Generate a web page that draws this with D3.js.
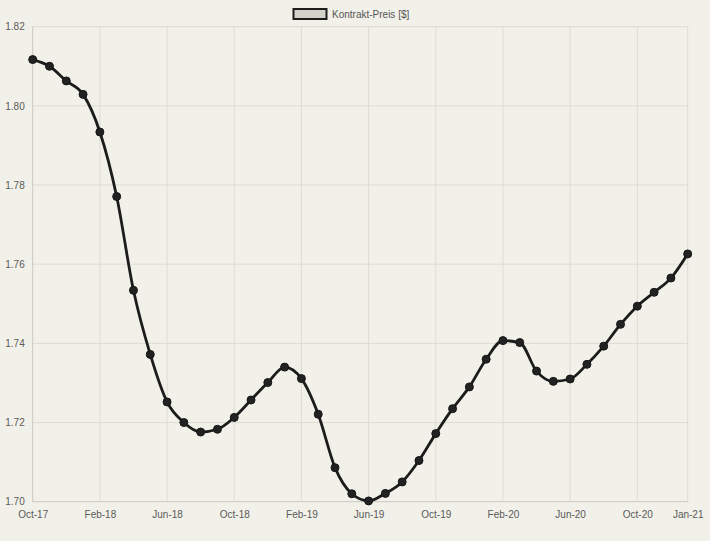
<!DOCTYPE html>
<html>
<head>
<meta charset="utf-8">
<script src="https://cdn.jsdelivr.net/npm/d3@7"></script>
<style>
  html, body { margin: 0; padding: 0; background: #f2f1e9; }
  svg { display: block; }
  text { font-family: "Liberation Sans", Arial, Helvetica, sans-serif; }
</style>
</head>
<body>
<svg id="chart" width="710" height="541"></svg>
<script>
const months = [
  "Oct-17","Nov-17","Dec-17","Jan-18","Feb-18","Mar-18","Apr-18","May-18","Jun-18","Jul-18",
  "Aug-18","Sep-18","Oct-18","Nov-18","Dec-18","Jan-19","Feb-19","Mar-19","Apr-19","May-19",
  "Jun-19","Jul-19","Aug-19","Sep-19","Oct-19","Nov-19","Dec-19","Jan-20","Feb-20","Mar-20",
  "Apr-20","May-20","Jun-20","Jul-20","Aug-20","Sep-20","Oct-20","Nov-20","Dec-20","Jan-21"
];
const prices = [
  1.8117, 1.8100, 1.8063, 1.8029, 1.7934, 1.7771, 1.7534, 1.7372, 1.7252, 1.7200,
  1.7176, 1.7183, 1.7213, 1.7257, 1.7301, 1.7340, 1.7311, 1.7221, 1.7086, 1.7020,
  1.7002, 1.7021, 1.7050, 1.7104, 1.7172, 1.7235, 1.7290, 1.7360, 1.7407, 1.7402,
  1.7330, 1.7304, 1.7310, 1.7347, 1.7393, 1.7448, 1.7494, 1.7529, 1.7565, 1.7626
];
const xTickLabels = ["Oct-17","Feb-18","Jun-18","Oct-18","Feb-19","Jun-19","Oct-19","Feb-20","Jun-20","Oct-20","Jan-21"];
const yTickValues = [1.70, 1.72, 1.74, 1.76, 1.78, 1.80, 1.82];
const seriesName = "Kontrakt-Preis [$]";

const svg = d3.select("#chart");
const pLeft = 32.7, pRight = 687.7, pTop = 26.7, pBottom = 501.7;

const x = d3.scalePoint().domain(months).range([pLeft, pRight]);
const y = d3.scaleLinear().domain([1.70, 1.82]).range([pBottom, pTop]);

// grid
const grid = svg.append("g");
grid.selectAll("line.h").data(yTickValues).join("line")
  .attr("x1", pLeft).attr("x2", pRight)
  .attr("y1", d => y(d)).attr("y2", d => y(d))
  .attr("stroke", d => d === 1.70 ? "#c9c8c0" : "#dddcd4").attr("stroke-width", 1);
grid.selectAll("line.v").data(xTickLabels).join("line")
  .attr("x1", d => x(d)).attr("x2", d => x(d))
  .attr("y1", pTop).attr("y2", pBottom)
  .attr("stroke", (d, i) => i === 0 ? "#c9c8c0" : "#dddcd4").attr("stroke-width", 1);

// axes labels via d3 axes
const yAxis = svg.append("g").attr("transform", `translate(${pLeft},0)`)
  .call(d3.axisLeft(y).tickValues(yTickValues).tickFormat(d3.format(".2f")).tickSize(0).tickPadding(8));
const xAxis = svg.append("g").attr("transform", `translate(0,${pBottom})`)
  .call(d3.axisBottom(x).tickValues(xTickLabels).tickSize(0).tickPadding(9));
[yAxis, xAxis].forEach(a => {
  a.select(".domain").remove();
  a.selectAll("text").attr("font-size", 10).attr("fill", "#5a5a5a")
    .attr("font-family", '"Liberation Sans", Arial, sans-serif');
});

// line
const data = months.map((m, i) => ({ m, v: prices[i] }));
const line = d3.line().x(d => x(d.m)).y(d => y(d.v)).curve(d3.curveMonotoneX);
svg.append("path").datum(data).attr("d", line)
  .attr("fill", "none").attr("stroke", "#1c1c1c").attr("stroke-width", 2.8);

svg.append("g").selectAll("circle").data(data).join("circle")
  .attr("cx", d => x(d.m)).attr("cy", d => y(d.v)).attr("r", 4)
  .attr("fill", "#222").attr("stroke", "#151515").attr("stroke-width", 1);

// legend
const lg = svg.append("g");
lg.append("rect").attr("x", 293.5).attr("y", 9).attr("width", 33).attr("height", 10)
  .attr("fill", "#d2d1ca").attr("stroke", "#1c1c1c").attr("stroke-width", 2);
lg.append("text").attr("x", 332).attr("y", 17.5).attr("font-size", 10).attr("fill", "#555")
  .text(seriesName);
</script>
</body>
</html>
